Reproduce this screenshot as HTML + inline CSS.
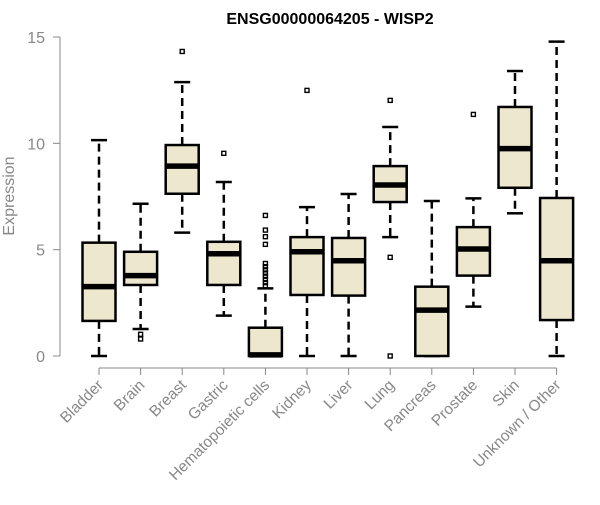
<!DOCTYPE html>
<html><head><meta charset="utf-8"><style>
body{margin:0;background:#fff}
svg text{font-family:"Liberation Sans",Arial,sans-serif}
</style></head><body>
<svg id="chart" width="600" height="500" xmlns="http://www.w3.org/2000/svg">
<text x="330" y="24" text-anchor="middle" font-size="16" font-weight="bold">ENSG00000064205 - WISP2</text>
<text transform="translate(14,196) rotate(-90)" text-anchor="middle" font-size="16" fill="#888">Expression</text>
<g id="yaxis"></g>
<g id="xaxis"></g>
<g id="boxes"></g>
</svg>
<script>
const categories=["Bladder","Brain","Breast","Gastric","Hematopoietic cells","Kidney","Liver","Lung","Pancreas","Prostate","Skin","Unknown / Other"];
const lowWhisker=[0,1.27,5.80,1.90,0,0,0,5.59,0,2.32,6.71,0];
const q1=[1.65,3.34,7.63,3.34,0,2.87,2.84,7.24,0,3.78,7.91,1.69];
const medians=[3.26,3.78,8.93,4.81,0.05,4.90,4.48,8.04,2.16,5.03,9.75,4.48];
const q3=[5.33,4.90,9.92,5.37,1.33,5.59,5.55,8.93,3.26,6.06,11.71,7.43];
const highWhisker=[10.15,7.16,12.88,8.18,3.18,7.0,7.62,10.77,7.29,7.41,13.40,14.78];
const outliers=[[],[1.02,0.80],[14.32],[9.53],[3.3,3.45,3.6,3.75,3.9,4.05,4.2,4.35,5.25,5.61,5.92,6.61],[12.49],[],[12.02,4.64,0],[],[11.36],[],[]];
const yTicks=[0,5,10,15];

const NS="http://www.w3.org/2000/svg";
const yS=v=>356-v*(319/15);
const xS=i=>99+i*41.6;
function mk(tag,attrs,parent){const e=document.createElementNS(NS,tag);for(const k in attrs)e.setAttribute(k,attrs[k]);parent.appendChild(e);return e;}
const ya=document.getElementById('yaxis'),xa=document.getElementById('xaxis'),bx=document.getElementById('boxes');
mk('line',{x1:60,x2:60,y1:yS(15),y2:yS(0),stroke:'#888'},ya);
yTicks.forEach(t=>{
  const l=mk('line',{x1:53,x2:60,y1:yS(t),y2:yS(t),stroke:'#888'},ya);
  
  
  const tx=mk('text',{x:45,y:yS(t)+6,'text-anchor':'end','font-size':16,fill:'#888'},ya);
  tx.textContent=t;
  
  
});
mk('line',{x1:xS(0),x2:xS(categories.length-1),y1:368,y2:368,stroke:'#888'},xa);
categories.forEach((c,i)=>{
  const x=xS(i);
  const l=mk('line',{x1:x,x2:x,y1:368,y2:375,stroke:'#888'},xa);
  
  
  const tx=mk('text',{transform:`translate(${x+5},${386}) rotate(-45)`,'text-anchor':'end','font-size':15.5,fill:'#888'},xa);
  tx.textContent=c;
  
  

  const g=mk('g',{},bx);
  
  
  mk('line',{x1:x,x2:x,y1:yS(q3[i]),y2:yS(highWhisker[i]),stroke:'#000','stroke-width':2.5,'stroke-dasharray':'8,5'},g);
  mk('line',{x1:x,x2:x,y1:yS(q1[i]),y2:yS(lowWhisker[i]),stroke:'#000','stroke-width':2.5,'stroke-dasharray':'8,5'},g);
  mk('line',{x1:x-8,x2:x+8,y1:yS(highWhisker[i]),y2:yS(highWhisker[i]),stroke:'#000','stroke-width':2.5},g);
  mk('line',{x1:x-8,x2:x+8,y1:yS(lowWhisker[i]),y2:yS(lowWhisker[i]),stroke:'#000','stroke-width':2.5},g);
  mk('rect',{x:x-16.5,y:yS(q3[i]),width:33,height:yS(q1[i])-yS(q3[i]),fill:'#EDE7CD',stroke:'#000','stroke-width':2.5},g);
  mk('line',{x1:x-16.5,x2:x+16.5,y1:yS(medians[i]),y2:yS(medians[i]),stroke:'#000','stroke-width':5.5},g);
  outliers[i].forEach(o=>{
    const r=mk('rect',{x:x-2,y:yS(o)-2,width:4,height:4,fill:'none',stroke:'#000','stroke-width':1.4},g);
    
    
  });
});
</script>
</body></html>
